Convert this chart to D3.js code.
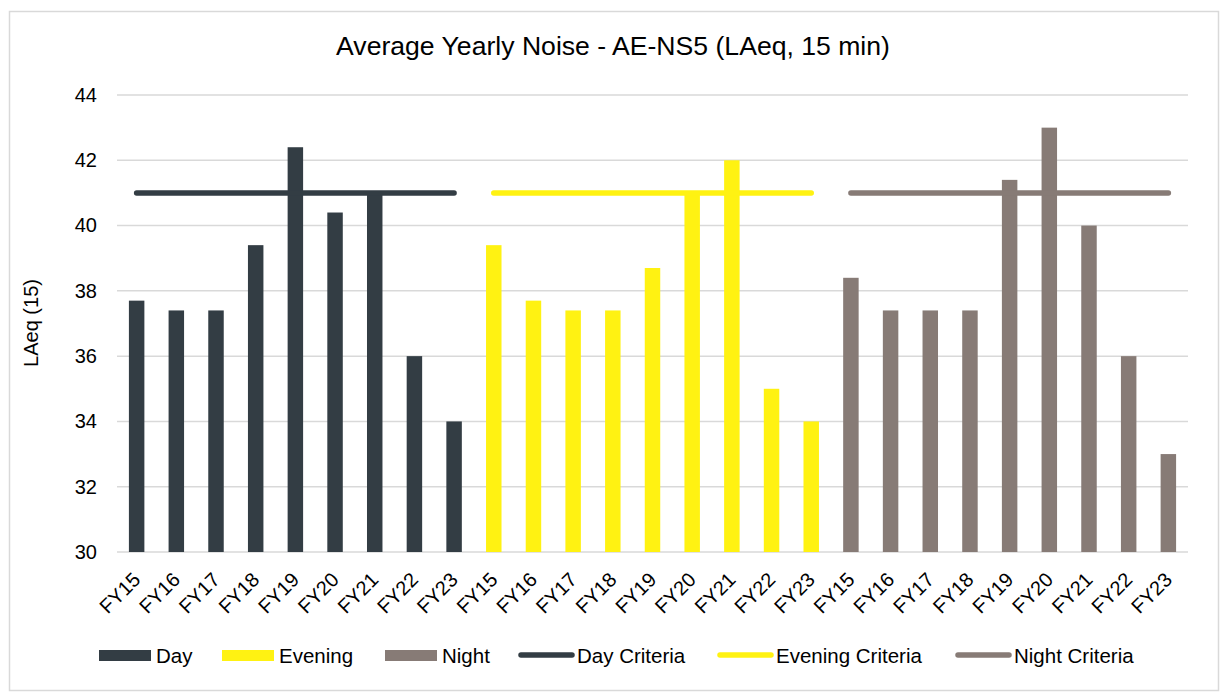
<!DOCTYPE html>
<html>
<head>
<meta charset="utf-8">
<script src="https://cdn.jsdelivr.net/npm/d3@7"></script>
<style>
  body { margin: 0; background: #fff; }
  svg { display: block; font-family: "Liberation Sans", Arial, sans-serif; }
</style>
</head>
<body>
<svg id="chart" width="1224" height="697"></svg>
<script>
// Fiscal years shown under each period group
const years = ["FY15", "FY16", "FY17", "FY18", "FY19", "FY20", "FY21", "FY22", "FY23"];
const periods = ["Day", "Evening", "Night"];

// Average LAeq (15 min) per year for each period
const dayValues = [37.7, 37.4, 37.4, 39.4, 42.4, 40.4, 41.0, 36.0, 34.0];
const eveningValues = [39.4, 37.7, 37.4, 37.4, 38.7, 41.0, 42.0, 35.0, 34.0];
const nightValues = [38.4, 37.4, 37.4, 37.4, 41.4, 43.0, 40.0, 36.0, 33.0];

// Noise criteria per period
const dayCriteria = 41;
const eveningCriteria = 41;
const nightCriteria = 41;

const yTicks = [30, 32, 34, 36, 38, 40, 42, 44];

const colors = { Day: "#333d44", Evening: "#fff212", Night: "#877b76" };

const series = [
  { name: "Day", values: dayValues, criteria: dayCriteria },
  { name: "Evening", values: eveningValues, criteria: eveningCriteria },
  { name: "Night", values: nightValues, criteria: nightCriteria }
];

const svg = d3.select("#chart");
const FONT = "Liberation Sans, Arial, sans-serif";

// outer chart frame
svg.append("rect")
  .attr("x", 9.5).attr("y", 11.5)
  .attr("width", 1209).attr("height", 679)
  .attr("fill", "#fff").attr("stroke", "#d9d9d9").attr("stroke-width", 1.5);

const plot = { left: 117, right: 1188, top: 95, bottom: 552 };

// one slot per bar: period + year
const slots = [];
series.forEach(s => years.forEach((yr, i) => slots.push({ key: s.name + "|" + yr, year: yr, period: s.name, value: s.values[i] })));

const x = d3.scaleBand()
  .domain(slots.map(d => d.key))
  .range([plot.left, plot.right])
  .paddingInner(0.61).paddingOuter(0.3);

const y = d3.scaleLinear().domain([30, 44]).range([plot.bottom, plot.top]);

// gridlines
svg.append("g")
  .selectAll("line")
  .data(yTicks)
  .join("line")
  .attr("x1", plot.left).attr("x2", plot.right)
  .attr("y1", d => y(d)).attr("y2", d => y(d))
  .attr("stroke", "#d9d9d9").attr("stroke-width", 1.5);

// y-axis labels
const yAxis = d3.axisLeft(y).tickValues(yTicks).tickSize(0).tickPadding(0).tickFormat(d3.format("d"));
svg.append("g")
  .attr("transform", `translate(${plot.left - 20},0)`)
  .call(yAxis)
  .call(g => g.select(".domain").remove())
  .call(g => g.selectAll("text").attr("font-size", 20).attr("fill", "#000").attr("font-family", FONT));

// bars
svg.append("g")
  .selectAll("rect")
  .data(slots)
  .join("rect")
  .attr("x", d => x(d.key))
  .attr("width", x.bandwidth())
  .attr("y", d => y(d.value))
  .attr("height", d => y(30) - y(d.value))
  .attr("fill", d => colors[d.period]);

// criteria lines, one per period group
const line = d3.line()
  .x(d => x(d.key) + x.bandwidth() / 2)
  .y(d => y(d.c));
series.forEach(s => {
  const pts = years.map(yr => ({ key: s.name + "|" + yr, c: s.criteria }));
  svg.append("path")
    .attr("d", line(pts))
    .attr("fill", "none")
    .attr("stroke", colors[s.name])
    .attr("stroke-width", 5.5)
    .attr("stroke-linecap", "round");
});

// x-axis labels
const xAxis = d3.axisBottom(x).tickSize(0).tickPadding(0).tickFormat(k => k.split("|")[1]);
svg.append("g")
  .attr("transform", `translate(0,${plot.bottom})`)
  .call(xAxis)
  .call(g => g.select(".domain").remove())
  .call(g => g.selectAll("text")
    .attr("font-size", 20).attr("fill", "#000")
    .attr("font-family", FONT)
    .attr("text-anchor", "end")
    .attr("y", 0)
    .attr("dy", "0")
    .attr("transform", "translate(5,29) rotate(-45)"));

// title
svg.append("text")
  .attr("x", 613).attr("y", 55)
  .attr("text-anchor", "middle")
  .attr("font-size", 26.6).attr("fill", "#000")
  .text("Average Yearly Noise - AE-NS5 (LAeq, 15 min)");

// y-axis title
svg.append("text")
  .attr("transform", "translate(38,323) rotate(-90)")
  .attr("text-anchor", "middle")
  .attr("font-size", 20).attr("fill", "#000")
  .text("LAeq (15)");

// legend
const legendY = 655;
const legend = svg.append("g");
const barItems = [
  { name: "Day", x: 99 },
  { name: "Evening", x: 222 },
  { name: "Night", x: 385 }
];
barItems.forEach(it => {
  legend.append("rect")
    .attr("x", it.x).attr("y", legendY - 5)
    .attr("width", 52).attr("height", 11)
    .attr("fill", colors[it.name]);
  legend.append("text")
    .attr("x", it.x + 57).attr("y", legendY + 7.5)
    .attr("font-size", 20.5).attr("fill", "#000")
    .text(it.name);
});
const lineItems = [
  { name: "Day", label: "Day Criteria", x: 521 },
  { name: "Evening", label: "Evening Criteria", x: 720 },
  { name: "Night", label: "Night Criteria", x: 958 }
];
lineItems.forEach(it => {
  legend.append("line")
    .attr("x1", it.x).attr("x2", it.x + 51)
    .attr("y1", legendY).attr("y2", legendY)
    .attr("stroke", colors[it.name]).attr("stroke-width", 5.5)
    .attr("stroke-linecap", "round");
  legend.append("text")
    .attr("x", it.x + 56).attr("y", legendY + 7.5)
    .attr("font-size", 20.5).attr("fill", "#000")
    .text(it.label);
});
</script>
</body>
</html>
